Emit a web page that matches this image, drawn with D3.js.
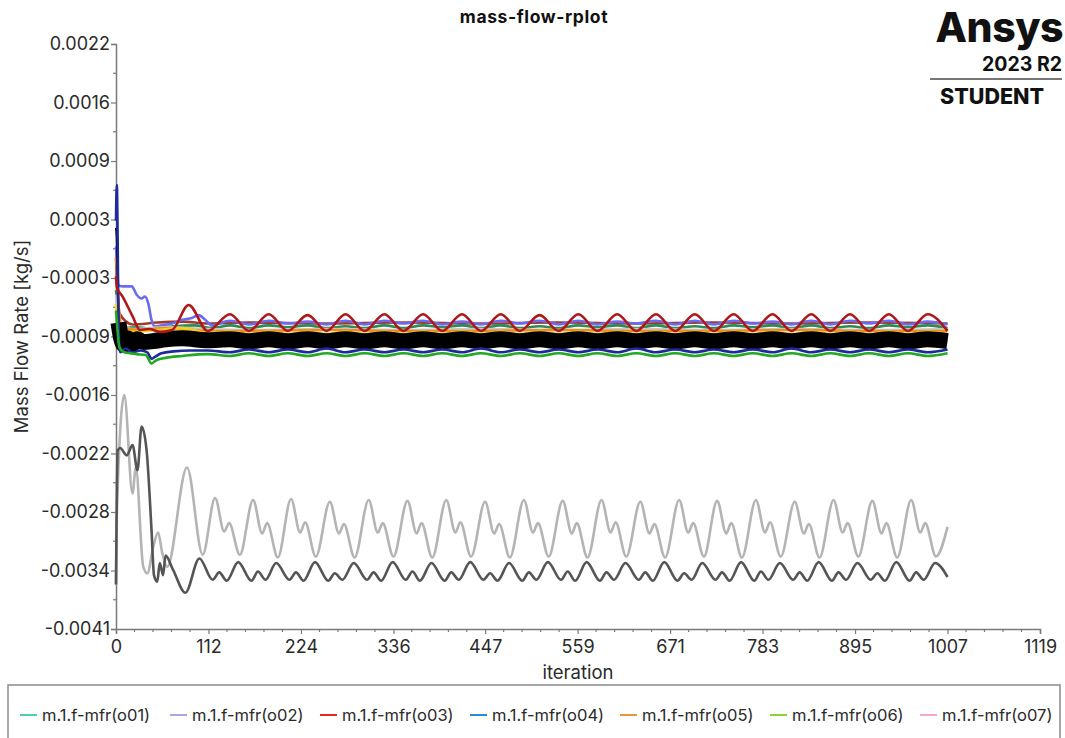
<!DOCTYPE html>
<html>
<head>
<meta charset="utf-8">
<script src="https://cdn.jsdelivr.net/npm/d3@7"></script>
<style>
  html, body { margin: 0; padding: 0; background: #fff; overflow: hidden; }
  svg { display: block; font-family: Inter, "Noto Sans", sans-serif; }
</style>
</head>
<body>
<svg id="chart" width="1065" height="738"></svg>
<script>
// ---- axis ticks ----
const iterTicks = [0, 112, 224, 336, 447, 559, 671, 783, 895, 1007, 1119];
const massTickLabels = ["-0.0041", "-0.0034", "-0.0028", "-0.0022", "-0.0016", "-0.0009",
                        "-0.0003", "0.0003", "0.0009", "0.0016", "0.0022"];
const massRange = [-0.0041, 0.0022];
const iterRange = [0, 1119];

// ---- monitor series: [iteration, mass flow rate kg/s] ----
const o01 = [[0,-0.00045],[2,-0.00062],[4,-0.00088],[10,-0.00086],[25,-0.00085],[45,-0.00087],[70,-0.00084],[95,-0.00083],[116,-0.00086],
  [138,-0.00083],[161,-0.00086],[185,-0.00083],[208,-0.00085],[232,-0.00083],[255,-0.00086],[278,-0.00084],[301,-0.00086],[325,-0.00083],[348,-0.00086],
  [372,-0.00083],[395,-0.00085],[419,-0.00083],[442,-0.00086],[466,-0.00083],[489,-0.00086],[513,-0.00084],[536,-0.00086],[560,-0.00083],[583,-0.00085],
  [607,-0.00083],[630,-0.00086],[654,-0.00083],[677,-0.00086],[701,-0.00084],[724,-0.00086],[748,-0.00083],[771,-0.00085],[795,-0.00083],[818,-0.00086],
  [842,-0.00083],[865,-0.00086],[889,-0.00084],[912,-0.00086],[936,-0.00083],[959,-0.00085],[983,-0.00083],[1007,-0.00086]];
const o02 = [[0,0.00002],[1,-0.00016],[3,-0.00040],[9,-0.00041],[19,-0.00041],[25,-0.00050],[31,-0.00054],[35,-0.00052],[39,-0.00059],
  [43,-0.00077],[47,-0.00084],[55,-0.00083],[68,-0.00081],[80,-0.00077],[92,-0.00075],[100,-0.00072],[108,-0.00077],[116,-0.00083],
  [138,-0.00078],[161,-0.00082],[185,-0.00078],[208,-0.00081],[232,-0.00079],[255,-0.00082],[278,-0.00078],[301,-0.00082],[325,-0.00078],[348,-0.00081],
  [372,-0.00078],[395,-0.00082],[419,-0.00079],[442,-0.00082],[466,-0.00078],[489,-0.00081],[513,-0.00078],[536,-0.00082],[560,-0.00078],[583,-0.00082],
  [607,-0.00079],[630,-0.00081],[654,-0.00078],[677,-0.00082],[701,-0.00078],[724,-0.00082],[748,-0.00078],[771,-0.00081],[795,-0.00079],[818,-0.00082],
  [842,-0.00078],[865,-0.00082],[889,-0.00078],[912,-0.00081],[936,-0.00078],[959,-0.00082],[983,-0.00079],[1007,-0.00082]];
const o03 = [[0,-0.00030],[1,-0.00042],[8,-0.00052],[20,-0.00073],[29,-0.00088],[40,-0.00087],[54,-0.00090],[68,-0.00088],[88,-0.00061],[111,-0.00089],
  [138,-0.00071],[161,-0.00089],[185,-0.00071],[208,-0.00089],[232,-0.00072],[255,-0.00089],[278,-0.00071],[301,-0.00089],[325,-0.00071],[348,-0.00089],
  [372,-0.00071],[395,-0.00089],[419,-0.00071],[442,-0.00089],[466,-0.00071],[489,-0.00089],[513,-0.00072],[536,-0.00089],[560,-0.00071],[583,-0.00089],
  [607,-0.00071],[630,-0.00089],[654,-0.00071],[677,-0.00089],[701,-0.00071],[724,-0.00089],[748,-0.00071],[771,-0.00089],[795,-0.00071],[818,-0.00089],
  [842,-0.00071],[865,-0.00089],[889,-0.00071],[912,-0.00089],[936,-0.00071],[959,-0.00089],[983,-0.00071],[1007,-0.00089]];
const o04 = [[0,0.00030],[1,0.00068],[2,0.00010],[3,-0.00080],[5,-0.00112],[12,-0.00108],[20,-0.00112],[30,-0.00110],[38,-0.00112],[43,-0.00119],
  [47,-0.00117],[55,-0.00113],[70,-0.00111],[90,-0.00110],[111,-0.00110],
  [138,-0.00112],[161,-0.00109],[185,-0.00112],[208,-0.00109],[232,-0.00112],[255,-0.00108],[278,-0.00112],[301,-0.00109],[325,-0.00112],[348,-0.00109],
  [372,-0.00112],[395,-0.00109],[419,-0.00112],[442,-0.00108],[466,-0.00112],[489,-0.00109],[513,-0.00112],[536,-0.00109],[560,-0.00112],[583,-0.00109],
  [607,-0.00112],[630,-0.00108],[654,-0.00112],[677,-0.00109],[701,-0.00112],[724,-0.00109],[748,-0.00112],[771,-0.00109],[795,-0.00112],[818,-0.00108],
  [842,-0.00112],[865,-0.00109],[889,-0.00112],[912,-0.00109],[936,-0.00112],[959,-0.00109],[983,-0.00112],[1007,-0.00109]];
const o05 = [[0,-0.00010],[1,-0.00020],[3,-0.00060],[8,-0.00086],[30,-0.00088],[60,-0.00086],[111,-0.00089],
  [161,-0.00089],[255,-0.00088],[348,-0.00089],[442,-0.00089],[536,-0.00088],[630,-0.00089],[724,-0.00089],[818,-0.00088],[912,-0.00089],[1007,-0.00089]];
const o06 = [[0,-0.00067],[2,-0.00090],[4,-0.00106],[10,-0.00112],[25,-0.00114],[36,-0.00115],[43,-0.00124],[48,-0.00121],[60,-0.00118],[80,-0.00116],[111,-0.00114],
  [138,-0.00116],[161,-0.00113],[185,-0.00116],[208,-0.00113],[232,-0.00116],[255,-0.00113],[278,-0.00116],[301,-0.00113],[325,-0.00116],[348,-0.00113],
  [372,-0.00116],[395,-0.00113],[419,-0.00116],[442,-0.00113],[466,-0.00116],[489,-0.00113],[513,-0.00116],[536,-0.00113],[560,-0.00116],[583,-0.00113],
  [607,-0.00116],[630,-0.00113],[654,-0.00116],[677,-0.00113],[701,-0.00116],[724,-0.00113],[748,-0.00116],[771,-0.00113],[795,-0.00116],[818,-0.00113],
  [842,-0.00116],[865,-0.00113],[889,-0.00116],[912,-0.00113],[936,-0.00116],[959,-0.00113],[983,-0.00116],[1007,-0.00113]];
const o07 = [[0,-0.00080],[4,-0.00100],[111,-0.00100],[1007,-0.00100]];
const o08 = [[0,-0.00060],[3,-0.00085],[20,-0.00090],[50,-0.00088],[80,-0.00086],[111,-0.00091],
  [138,-0.00090],[161,-0.00092],[185,-0.00090],[208,-0.00092],[232,-0.00090],[255,-0.00092],[278,-0.00090],[301,-0.00092],[325,-0.00090],[348,-0.00092],
  [372,-0.00090],[395,-0.00092],[419,-0.00090],[442,-0.00092],[466,-0.00090],[489,-0.00092],[513,-0.00090],[536,-0.00092],[560,-0.00090],[583,-0.00092],
  [607,-0.00090],[630,-0.00092],[654,-0.00090],[677,-0.00092],[701,-0.00090],[724,-0.00092],[748,-0.00090],[771,-0.00092],[795,-0.00090],[818,-0.00092],
  [842,-0.00090],[865,-0.00092],[889,-0.00090],[912,-0.00092],[936,-0.00090],[959,-0.00092],[983,-0.00090],[1007,-0.00092]];
const o09 = [[0,-0.00050],[3,-0.00080],[20,-0.00087],[60,-0.00085],[111,-0.00087],
  [161,-0.00088],[255,-0.00087],[348,-0.00088],[442,-0.00087],[536,-0.00088],[630,-0.00087],[724,-0.00088],[818,-0.00087],[912,-0.00088],[1007,-0.00087]];
const o10 = [[0,-0.00010],[1,-0.00030],[4,-0.00070],[20,-0.00082],[50,-0.00080],[80,-0.00079],[111,-0.00081],
  [161,-0.00080],[255,-0.00081],[348,-0.00080],[442,-0.00081],[536,-0.00080],[630,-0.00081],[724,-0.00080],[818,-0.00081],[912,-0.00080],[1007,-0.00081]];
const o11 = [[0,0.00022],[1,0.00010],[2,-0.00035],[3,-0.00080],[6,-0.00096],[10,-0.00104],[14,-0.00097],[20,-0.00103],[26,-0.00098],[33,-0.00101],
  [45,-0.00100],[60,-0.00098],[80,-0.00097],[111,-0.00099],
  [138,-0.00098],[161,-0.00100],[185,-0.00098],[208,-0.00100],[232,-0.00098],[255,-0.00100],[278,-0.00098],[301,-0.00100],[325,-0.00098],[348,-0.00100],
  [372,-0.00098],[395,-0.00100],[419,-0.00098],[442,-0.00100],[466,-0.00098],[489,-0.00100],[513,-0.00098],[536,-0.00100],[560,-0.00098],[583,-0.00100],
  [607,-0.00098],[630,-0.00100],[654,-0.00098],[677,-0.00100],[701,-0.00098],[724,-0.00100],[748,-0.00098],[771,-0.00100],[795,-0.00098],[818,-0.00100],
  [842,-0.00098],[865,-0.00100],[889,-0.00098],[912,-0.00100],[936,-0.00098],[959,-0.00100],[983,-0.00098],[1007,-0.00100]];
const o12 = [[0,-0.00362],[1,-0.00285],[10,-0.00158],[20,-0.00264],[24,-0.00236],[33,-0.00343],[38,-0.00350],[45,-0.00322],[51,-0.00306],[56,-0.00328],
  [62,-0.00343],[86,-0.00236],[105,-0.00330],
  [120,-0.00269],[131,-0.00305],[137,-0.00296],[150,-0.00330],[166,-0.00271],[177,-0.00307],[183,-0.00296],[196,-0.00333],
  [212,-0.00270],[223,-0.00306],[229,-0.00295],[242,-0.00332],[259,-0.00273],[270,-0.00307],[276,-0.00297],[289,-0.00333],
  [306,-0.00271],[317,-0.00306],[323,-0.00296],[336,-0.00332],[353,-0.00272],[364,-0.00307],[370,-0.00296],[383,-0.00333],
  [400,-0.00271],[411,-0.00306],[417,-0.00295],[430,-0.00332],[447,-0.00273],[458,-0.00307],[464,-0.00297],[477,-0.00333],
  [494,-0.00271],[505,-0.00306],[511,-0.00296],[524,-0.00332],[541,-0.00272],[552,-0.00307],[558,-0.00296],[571,-0.00333],
  [588,-0.00271],[599,-0.00306],[605,-0.00295],[618,-0.00332],[635,-0.00273],[646,-0.00307],[652,-0.00297],[665,-0.00333],
  [682,-0.00271],[693,-0.00306],[699,-0.00296],[712,-0.00332],[728,-0.00272],[739,-0.00307],[745,-0.00296],[758,-0.00333],
  [775,-0.00271],[786,-0.00306],[792,-0.00295],[805,-0.00332],[822,-0.00273],[833,-0.00307],[839,-0.00297],[852,-0.00333],
  [869,-0.00271],[880,-0.00306],[886,-0.00296],[899,-0.00332],[916,-0.00272],[927,-0.00307],[933,-0.00296],[946,-0.00333],
  [963,-0.00271],[974,-0.00306],[980,-0.00296],[993,-0.00332],[1007,-0.00300]];
const o13 = [[0,-0.00362],[2,-0.00218],[5,-0.00215],[13,-0.00223],[20,-0.00212],[26,-0.00239],[31,-0.00192],[37,-0.00217],[43,-0.00303],[46,-0.00352],
  [50,-0.00359],[53,-0.00339],[57,-0.00352],[60,-0.00331],[69,-0.00346],[84,-0.00371],[101,-0.00334],
  [117,-0.00357],[125,-0.00349],[134,-0.00358],[148,-0.00338],[164,-0.00358],[172,-0.00348],[181,-0.00357],[194,-0.00339],
  [210,-0.00357],[218,-0.00349],[227,-0.00358],[241,-0.00338],[257,-0.00358],[265,-0.00350],[274,-0.00357],[288,-0.00339],
  [304,-0.00357],[312,-0.00349],[321,-0.00358],[335,-0.00338],[351,-0.00357],[359,-0.00348],[368,-0.00358],[382,-0.00339],
  [398,-0.00358],[406,-0.00349],[415,-0.00357],[429,-0.00338],[445,-0.00357],[453,-0.00350],[462,-0.00358],[476,-0.00339],
  [492,-0.00358],[500,-0.00349],[509,-0.00357],[523,-0.00338],[539,-0.00357],[547,-0.00348],[556,-0.00358],[570,-0.00338],
  [586,-0.00358],[594,-0.00349],[603,-0.00357],[617,-0.00339],[633,-0.00357],[641,-0.00349],[650,-0.00358],[664,-0.00338],
  [680,-0.00358],[688,-0.00350],[697,-0.00357],[710,-0.00339],[726,-0.00357],[734,-0.00349],[743,-0.00358],[757,-0.00338],
  [773,-0.00358],[781,-0.00348],[790,-0.00357],[804,-0.00339],[820,-0.00357],[828,-0.00349],[837,-0.00358],[851,-0.00338],
  [867,-0.00358],[875,-0.00349],[884,-0.00357],[898,-0.00339],[914,-0.00357],[922,-0.00350],[931,-0.00358],[945,-0.00338],
  [961,-0.00358],[969,-0.00349],[978,-0.00357],[992,-0.00339],[1007,-0.00354]];

const seriesNames = ["o01","o02","o03","o04","o05","o06","o07","o08","o09","o10","o11","o12","o13"];
const seriesData  = [o01, o02, o03, o04, o05, o06, o07, o08, o09, o10, o11, o12, o13];
const lineColors  = ["#2e8b57","#6b6bf2","#b01818","#1c2a9c","#f08a26","#22a822","#f2a0cc","#f2d21e","#c8c8c8","#9c3b30","#000000","#b4b4b4","#555555"];
// legend row shows the first seven monitors
const legendNames  = ["o01","o02","o03","o04","o05","o06","o07"];
const legendColors = ["#48d0b0","#aaa6e6","#e8281e","#2c88d8","#f39232","#8cd434","#f4a6d2"];
// order in which the monitors are painted (last on top)
const drawOrder = ["o10","o02","o01","o09","o05","o08","o07","o11","o04","o06","o03","o12","o13"];

// ---- layout ----
const W = 1065, H = 738;
const plot = { left: 116, right: 1040, top: 44, bottom: 629 };

const svg = d3.select("#chart");
const x = d3.scaleLinear().domain(iterRange).range([plot.left, plot.right]);
const y = d3.scaleLinear().domain(massRange).range([plot.bottom, plot.top]);

const axisColor = "#7a7a7a";
const textColor = "#2a2a2a";

// title
svg.append("text")
  .attr("x", 534).attr("y", 23)
  .attr("text-anchor", "middle")
  .attr("font-size", 17.5).attr("font-weight", 700).attr("fill", "#111").attr("letter-spacing", 0.6)
  .text("mass-flow-rplot");

// branding block
const brand = svg.append("g");
brand.append("text").attr("x", 1063).attr("y", 42).attr("text-anchor", "end")
  .attr("font-size", 41).attr("font-weight", 800).attr("fill", "#111").attr("letter-spacing", -0.5)
  .text("Ansys");
brand.append("text").attr("x", 1062).attr("y", 71).attr("text-anchor", "end")
  .attr("font-size", 19.5).attr("font-weight", 700).attr("fill", "#111")
  .text("2023 R2");
brand.append("line").attr("x1", 930).attr("x2", 1062).attr("y1", 79).attr("y2", 79)
  .attr("stroke", "#777").attr("stroke-width", 2);
brand.append("text").attr("x", 940).attr("y", 104)
  .attr("font-size", 21.5).attr("font-weight", 800).attr("fill", "#111")
  .text("STUDENT");

// y axis
const yTickValues = massTickLabels.map((_, i) => massRange[0] + i * (massRange[1] - massRange[0]) / (massTickLabels.length - 1));
const yAxis = d3.axisLeft(y).tickValues(yTickValues).tickSize(5).tickPadding(1)
  .tickFormat((d, i) => massTickLabels[i]);
const gy = svg.append("g").attr("transform", `translate(${plot.left},0)`).call(yAxis);
// minor y ticks halfway between labelled ones
const yMinor = d3.pairs(yTickValues).map(p => (p[0] + p[1]) / 2);
gy.selectAll(".minor").data(yMinor).enter().append("line")
  .attr("class", "minor").attr("x1", -3).attr("x2", 0)
  .attr("y1", d => y(d)).attr("y2", d => y(d));

// x axis
const xAxis = d3.axisBottom(x).tickValues(iterTicks).tickSize(5).tickPadding(6).tickFormat(d => d);
const gx = svg.append("g").attr("transform", `translate(0,${plot.bottom})`).call(xAxis);
const xMinor = [];
d3.pairs(iterTicks).forEach(p => { for (let k = 1; k < 5; k++) xMinor.push(p[0] + (p[1] - p[0]) * k / 5); });
gx.selectAll(".minor").data(xMinor).enter().append("line")
  .attr("class", "minor").attr("y1", 0).attr("y2", 3)
  .attr("x1", d => x(d)).attr("x2", d => x(d));

[gx, gy].forEach(g => {
  g.select(".domain").attr("stroke", axisColor).attr("stroke-width", 1.5);
  g.selectAll("line").attr("stroke", axisColor).attr("stroke-width", 1.2);
  g.selectAll("text").attr("fill", textColor).attr("font-size", 18).attr("font-family", "Inter, 'Noto Sans', sans-serif");
});

// axis titles
svg.append("text")
  .attr("x", (plot.left + plot.right) / 2).attr("y", 679)
  .attr("text-anchor", "middle").attr("font-size", 18.5).attr("fill", textColor)
  .text("iteration");
svg.append("text")
  .attr("transform", `translate(28,${(plot.top + plot.bottom) / 2}) rotate(-90)`)
  .attr("text-anchor", "middle").attr("font-size", 18.5).attr("fill", textColor)
  .text("Mass Flow Rate [kg/s]");

// monitor lines; the black monitor is drawn as a wide band once it settles
const line = d3.line().x(d => x(d[0])).y(d => y(d[1])).curve(d3.curveMonotoneX);
const gLines = svg.append("g");
drawOrder.forEach(name => {
  const i = seriesNames.indexOf(name);
  const data = seriesData[i];
  if (name === "o11") {
    gLines.append("path").datum(data.filter(d => d[0] <= 4))
      .attr("fill", "none").attr("stroke", lineColors[i]).attr("stroke-width", 2.2)
      .attr("d", line);
    gLines.append("path").datum(data.filter(d => d[0] >= 3))
      .attr("fill", "none").attr("stroke", lineColors[i]).attr("stroke-width", 16)
      .attr("stroke-linejoin", "round").attr("d", line);
  } else {
    gLines.append("path").datum(data)
      .attr("fill", "none").attr("stroke", lineColors[i]).attr("stroke-width", 2.6)
      .attr("stroke-linejoin", "round").attr("d", line);
  }
});

// legend
const legendBox = { x: 8, y: 685, w: 1052, h: 80 };
svg.append("rect")
  .attr("x", legendBox.x).attr("y", legendBox.y).attr("width", legendBox.w).attr("height", legendBox.h)
  .attr("fill", "#fff").attr("stroke", "#8a8a8a").attr("stroke-width", 1.5);
const item = svg.append("g").selectAll("g").data(legendNames).enter().append("g")
  .attr("transform", (d, i) => `translate(${20 + i * 150},715)`);
item.append("line").attr("x1", 0).attr("x2", 17).attr("y1", 0).attr("y2", 0)
  .attr("stroke", (d, i) => legendColors[i]).attr("stroke-width", 2);
item.append("text").attr("x", 22).attr("y", 6)
  .attr("font-size", 16.5).attr("fill", textColor)
  .text(d => `m.1.f-mfr(${d})`);
</script>
</body>
</html>
